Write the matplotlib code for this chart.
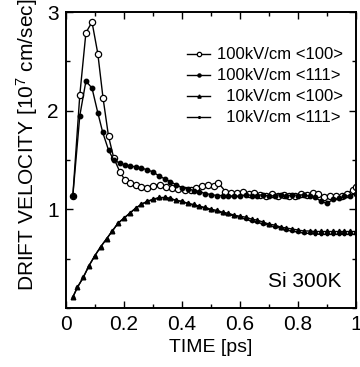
import numpy as np
import matplotlib
matplotlib.use("Agg")
import matplotlib.pyplot as plt
from matplotlib.ticker import MultipleLocator

# ---- data (time in ps, velocity in 1e7 cm/s) ----
t_hi_100 = [0.024, 0.048, 0.069, 0.09, 0.11, 0.128, 0.147, 0.165, 0.186, 0.203,
            0.22, 0.24, 0.26, 0.28, 0.30, 0.325, 0.345, 0.365, 0.385, 0.41,
            0.43, 0.45, 0.47, 0.49, 0.51, 0.525, 0.55, 0.57, 0.59, 0.61,
            0.63, 0.65, 0.67, 0.69, 0.71, 0.73, 0.75, 0.77, 0.79, 0.81,
            0.83, 0.85, 0.87, 0.89, 0.91, 0.93, 0.95, 0.97, 0.99, 1.0]
v_hi_100 = [1.14, 2.16, 2.79, 2.90, 2.58, 2.13, 1.74, 1.52, 1.38, 1.30,
            1.27, 1.25, 1.23, 1.22, 1.24, 1.25, 1.23, 1.22, 1.21, 1.20,
            1.20, 1.22, 1.24, 1.25, 1.24, 1.27, 1.18, 1.17, 1.17, 1.18,
            1.16, 1.17, 1.15, 1.14, 1.16, 1.13, 1.15, 1.13, 1.14, 1.16,
            1.15, 1.17, 1.16, 1.12, 1.13, 1.14, 1.13, 1.16, 1.20, 1.23]

t_hi_111 = [0.024, 0.048, 0.069, 0.09, 0.11, 0.127, 0.147, 0.165, 0.185, 0.203,
            0.22, 0.24, 0.26, 0.28, 0.30, 0.32, 0.34, 0.36, 0.38, 0.40,
            0.42, 0.44, 0.46, 0.48, 0.50, 0.52, 0.54, 0.56, 0.58, 0.60,
            0.62, 0.64, 0.66, 0.68, 0.70, 0.72, 0.74, 0.76, 0.78, 0.80,
            0.82, 0.84, 0.86, 0.88, 0.90, 0.92, 0.94, 0.96, 0.98, 1.0]
v_hi_111 = [1.14, 1.95, 2.30, 2.23, 1.98, 1.78, 1.60, 1.50, 1.47, 1.45,
            1.44, 1.43, 1.42, 1.40, 1.38, 1.34, 1.31, 1.28, 1.25, 1.22,
            1.21, 1.19, 1.18, 1.16, 1.15, 1.14, 1.14, 1.13, 1.14, 1.13,
            1.15, 1.14, 1.14, 1.15, 1.13, 1.14, 1.15, 1.13, 1.15, 1.14,
            1.15, 1.13, 1.12, 1.08, 1.06, 1.10, 1.11, 1.13, 1.14, 1.16]

t_lo = [0.024, 0.04, 0.06, 0.08, 0.10, 0.12, 0.14, 0.16, 0.18, 0.20,
        0.22, 0.24, 0.26, 0.28, 0.30, 0.32, 0.34, 0.36, 0.38, 0.40,
        0.42, 0.44, 0.46, 0.48, 0.50, 0.52, 0.54, 0.56, 0.58, 0.60,
        0.62, 0.64, 0.66, 0.68, 0.70, 0.72, 0.74, 0.76, 0.78, 0.80,
        0.82, 0.84, 0.86, 0.88, 0.90, 0.92, 0.94, 0.96, 0.98, 1.0]
v_lo_100 = [0.11, 0.21, 0.31, 0.43, 0.53, 0.62, 0.70, 0.78, 0.86, 0.91,
            0.96, 1.01, 1.05, 1.08, 1.10, 1.12, 1.12, 1.11, 1.09, 1.08,
            1.06, 1.05, 1.03, 1.02, 1.00, 0.99, 0.97, 0.96, 0.94, 0.93,
            0.92, 0.90, 0.89, 0.87, 0.85, 0.84, 0.82, 0.81, 0.80, 0.79,
            0.78, 0.78, 0.775, 0.775, 0.775, 0.775, 0.775, 0.775, 0.775, 0.775]
v_lo_111 = [0.11, 0.21, 0.31, 0.43, 0.53, 0.62, 0.70, 0.78, 0.86, 0.91,
            0.96, 1.01, 1.05, 1.08, 1.10, 1.11, 1.12, 1.11, 1.09, 1.08,
            1.06, 1.04, 1.03, 1.01, 0.99, 0.98, 0.96, 0.95, 0.93, 0.92,
            0.90, 0.88, 0.87, 0.85, 0.84, 0.82, 0.81, 0.79, 0.78, 0.77,
            0.76, 0.755, 0.75, 0.745, 0.745, 0.745, 0.745, 0.745, 0.745, 0.745]

labels = ['100kV/cm <100>', '100kV/cm <111>', '  10kV/cm <100>', '  10kV/cm <111>']

plt.rcParams['font.family'] = ['Liberation Sans', 'DejaVu Sans']
plt.rcParams['mathtext.default'] = 'regular'
plt.rcParams['axes.linewidth'] = 1.4

fig = plt.figure(figsize=(3.6, 3.67), dpi=100)
ax = fig.add_axes([0.183, 0.161, 0.806, 0.806])

ax.plot(t_hi_100, v_hi_100, 'k-', lw=1.0, marker='o', ms=4.5, mfc='white',
        mec='k', mew=0.9, label=labels[0])
ax.plot(t_hi_111, v_hi_111, 'k-', lw=1.0, marker='o', ms=3.2, mfc='k',
        mec='k', label=labels[1])
ax.plot(t_lo, v_lo_100, 'k-', lw=1.0, marker='^', ms=3.3, mfc='k',
        mec='k', label=labels[2])
ax.plot(t_lo, v_lo_111, 'k-', lw=1.0, marker='.', ms=3.5, mfc='k',
        mec='k', label=labels[3])

ax.set_xlim(0, 1)
ax.set_ylim(0, 3)
ax.xaxis.set_minor_locator(MultipleLocator(0.1))
ax.yaxis.set_minor_locator(MultipleLocator(0.5))
ax.set_xticks([0, 0.2, 0.4, 0.6, 0.8, 1.0])
ax.set_xticklabels(['0', '0.2', '0.4', '0.6', '0.8', '1'])
ax.set_yticks([1, 2, 3])
ax.set_yticklabels(['1', '2', '3'])

ax.tick_params(which='both', direction='in', top=True, right=True, width=1.0)
ax.tick_params(which='major', length=5, labelsize=15, pad=5)
ax.tick_params(which='minor', length=3)

ax.set_xlabel('TIME [ps]', fontsize=14, labelpad=4)
ax.set_ylabel('DRIFT VELOCITY [10$^7$ cm/sec]', fontsize=15)
ax.yaxis.set_label_coords(-0.09, 0.55)

ax.text(0.95, 0.09, 'Si 300K', transform=ax.transAxes, fontsize=15,
        ha='right', va='center')

ax.legend(loc='upper right', bbox_to_anchor=(0.995, 0.92), frameon=False,
          fontsize=12, handlelength=1.4, handletextpad=0.4, labelspacing=0.36,
          borderpad=0.2, markerscale=0.7)

fig.savefig('out.png', dpi=100)
